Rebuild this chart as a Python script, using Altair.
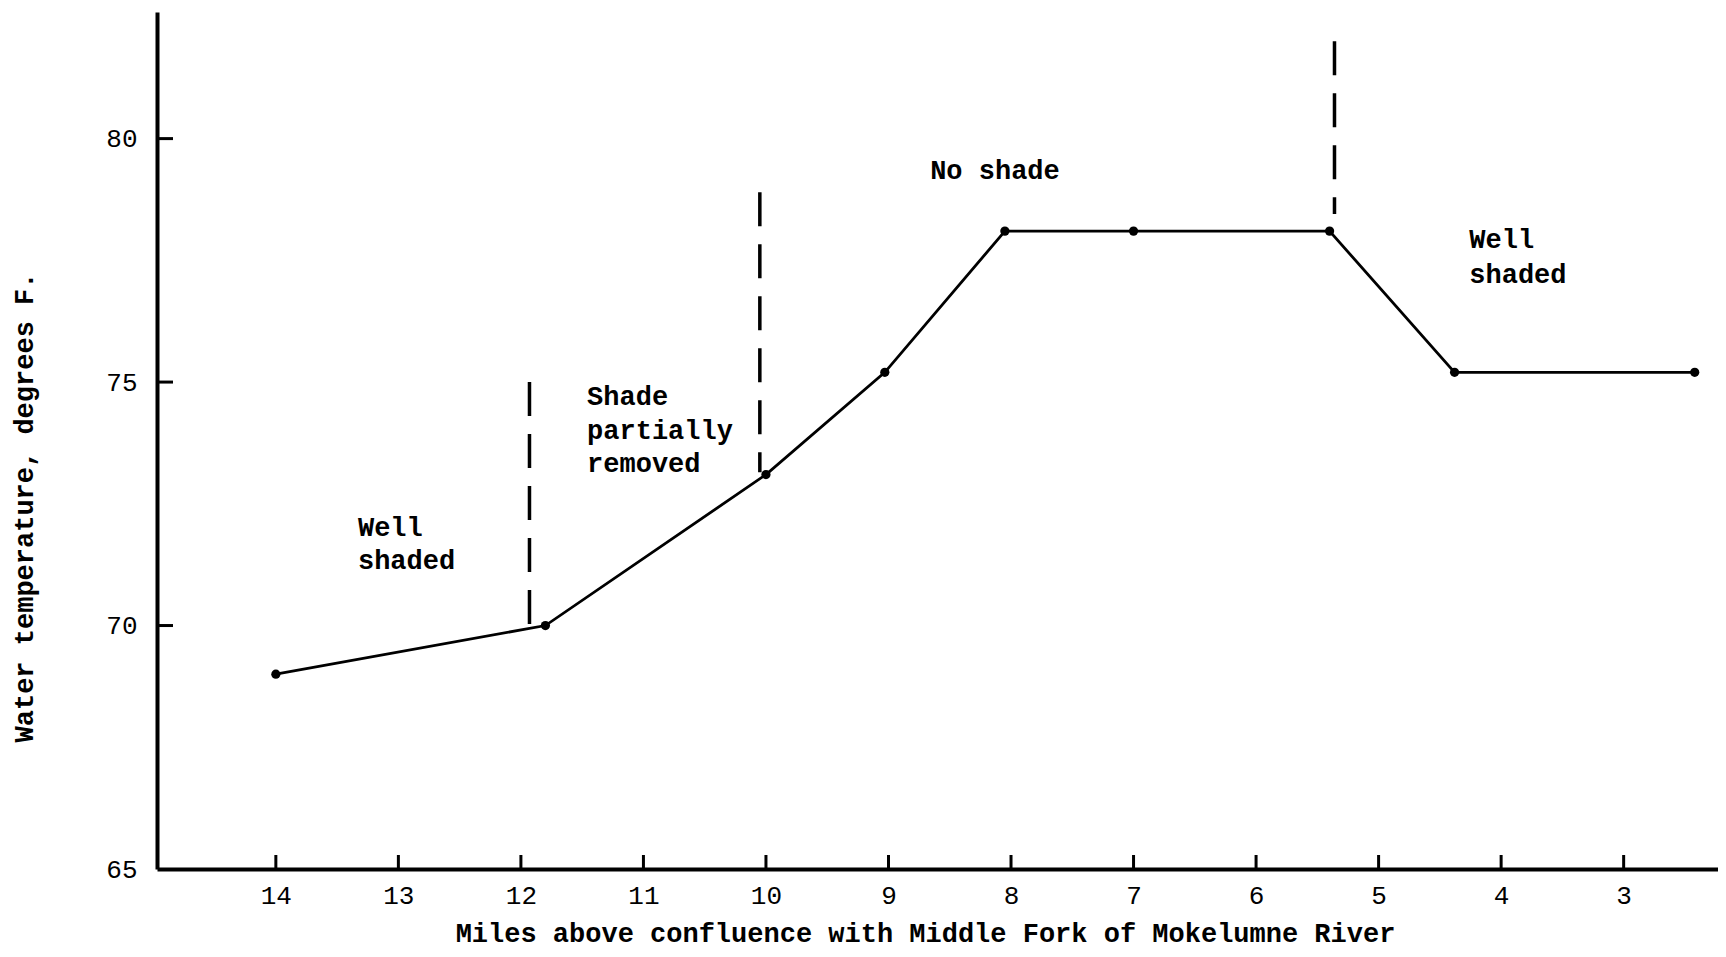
import altair as alt
import pandas as pd

# Measured water temperatures along the stream
miles = [14.0, 11.8, 10.0, 9.03, 8.05, 7.0, 5.4, 4.38, 2.42]
temps = [69.0, 70.0, 73.1, 75.2, 78.1, 78.1, 78.1, 75.2, 75.2]

# Dashed dividers between shade zones
div_miles = [11.93, 10.05, 5.36]
div_top = [75.0, 78.9, 82.0]
div_bottom = [70.0, 73.15, 78.45]

# Zone annotations (one row per text line)
note_lines = ["Well", "shaded", "Shade", "partially", "removed", "No shade", "Well", "shaded"]
note_miles = [13.33, 13.33, 11.46, 11.46, 11.46, 8.66, 4.26, 4.26]
note_temps = [72.0, 71.32, 74.69, 73.99, 73.31, 79.33, 77.92, 77.2]

x_ticks = [14, 13, 12, 11, 10, 9, 8, 7, 6, 5, 4, 3]
y_ticks = [65, 70, 75, 80]
y_inner_ticks = [70, 75, 80]

X_TITLE = "Miles above confluence with Middle Fork of Mokelumne River"
Y_TITLE = "Water temperature, degrees F."

FONT = "Liberation Mono"
W, H = 1561, 857

df = pd.DataFrame({"mile": miles, "temp": temps})
div_df = pd.DataFrame({"mile": div_miles, "top": div_top, "bottom": div_bottom})
note_df = pd.DataFrame({"text": note_lines, "mile": note_miles, "temp": note_temps})
xt_df = pd.DataFrame({"mile": x_ticks})
yt_df = pd.DataFrame({"temp": y_inner_ticks})

x_scale = alt.Scale(domain=[2.23, 14.97], reverse=True, nice=False, zero=False)
y_scale = alt.Scale(domain=[65, 82.6], nice=False, zero=False)

x_axis = alt.Axis(
    values=x_ticks, format="d", grid=False, ticks=False, tickSize=0,
    labelFont=FONT, labelFontSize=26, labelColor="black", labelPadding=26,
    labelBaseline="middle", labelFlush=False,
    domainColor="black", domainWidth=4,
    title=X_TITLE, titleFont=FONT, titleFontSize=27, titleFontWeight="bold",
    titleColor="black", titleX=768, titleY=64, titleAlign="center",
    titleBaseline="middle", titleAnchor="start",
)
y_axis = alt.Axis(
    values=y_ticks, format="d", grid=False, ticks=False, tickSize=0,
    labelFont=FONT, labelFontSize=26, labelColor="black", labelPadding=20,
    labelFlush=False,
    domainColor="black", domainWidth=4,
    title=Y_TITLE, titleFont=FONT, titleFontSize=27, titleFontWeight="bold",
    titleColor="black", titleX=-133, titleY=495, titleAngle=270,
    titleAlign="center", titleBaseline="middle", titleAnchor="start",
)

line = alt.Chart(df).mark_line(color="black", strokeWidth=2.8).encode(
    x=alt.X("mile:Q", scale=x_scale, axis=x_axis),
    y=alt.Y("temp:Q", scale=y_scale, axis=y_axis),
)
pts = alt.Chart(df).mark_point(filled=True, color="black", size=85, opacity=1).encode(
    x="mile:Q", y="temp:Q"
)
dividers = alt.Chart(div_df).mark_rule(
    color="black", strokeWidth=3.5, strokeDash=[34, 18]
).encode(x="mile:Q", y="top:Q", y2="bottom:Q")

notes = alt.Chart(note_df).mark_text(
    font=FONT, fontSize=27, fontWeight="bold", color="black",
    align="left", baseline="middle",
).encode(x="mile:Q", y="temp:Q", text="text:N")

xticks = alt.Chart(xt_df).mark_rule(color="black", strokeWidth=3).encode(
    x="mile:Q", y=alt.value(H), y2=alt.value(H - 14)
)
yticks = alt.Chart(yt_df).mark_rule(color="black", strokeWidth=3).encode(
    y="temp:Q", x=alt.value(0), x2=alt.value(16)
)

chart = alt.layer(xticks, yticks, dividers, line, pts, notes).properties(
    width=W, height=H,
    autosize=alt.AutoSizeParams(type="none"),
    padding={"left": 149, "top": 4, "right": 0, "bottom": 80},
    background="white",
).configure_view(stroke=None)

chart.save("out.html", embed_options={"renderer": "svg", "actions": False})
